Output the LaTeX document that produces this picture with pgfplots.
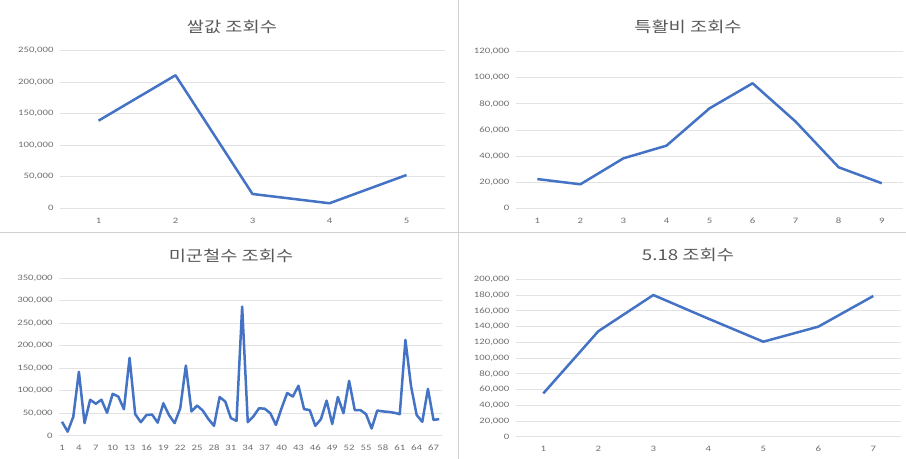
\documentclass[border=0pt]{standalone}
\usepackage{pgfplots}
\pgfplotsset{compat=1.18}
\usepackage{fontspec}
\setmainfont{Carlito}
\newfontfamily\tickfont[FakeStretch=1.3]{Carlito}
\newfontfamily\cjk[FakeStretch=1.25]{Noto Sans CJK KR}
\definecolor{exblue}{HTML}{4472C4}
\definecolor{txtgray}{HTML}{595959}
\definecolor{ticgray}{HTML}{707070}
\definecolor{gridgray}{HTML}{E3E3E3}
\definecolor{divgray}{HTML}{D0D0D0}
\tikzset{exline/.style={color=exblue, line width=2.5bp, mark=none, line join=round}}
\pgfplotsset{
  excel/.style={
    scale only axis,
    axis line style={draw=none},
    major tick length=0pt,
    ymajorgrids,
    grid style={draw=gridgray, line width=0.8bp},
    ymin=0,
    scaled y ticks=false,
    /pgf/number format/assume math mode=true,
    yticklabel style={/pgf/number format/fixed, /pgf/number format/1000 sep={,}, xshift=-3bp},
    tick label style={font=\tickfont\fontsize{8.3}{9}\selectfont, text=ticgray},
    xticklabel style={yshift=-6bp},
  }
}
\begin{document}
\begin{tikzpicture}
\useasboundingbox (0bp,0bp) rectangle (906bp,459bp);
\fill[white] (0bp,0bp) rectangle (906bp,459bp);
\draw[divgray, line width=0.8bp] (458bp,0bp) -- (458bp,459bp);
\draw[divgray, line width=0.8bp] (0bp,226.5bp) -- (906bp,226.5bp);

% Panel 1
\begin{axis}[excel, at={(60bp,250.7bp)}, anchor=south west, width=385bp, height=157.6bp,
  xmin=0.5, xmax=5.5, ymax=250000, ytick={0,50000,...,250000}, xtick={1,...,5}]
\addplot[exline] coordinates {(1,139000) (2,211000) (3,22700) (4,8000) (5,52800)};
\end{axis}
\node[text=txtgray, font=\cjk\fontsize{15}{16}\selectfont] at (232bp,432.3bp) {쌀값 조회수};

% Panel 2
\begin{axis}[excel, at={(515.8bp,250.7bp)}, anchor=south west, width=387.5bp, height=156.6bp,
  xmin=0.5, xmax=9.5, ymax=120000, ytick={0,20000,...,120000}, xtick={1,...,9}]
\addplot[exline] coordinates {(1,22400) (2,18400) (3,38300) (4,48000) (5,76600) (6,95800) (7,66400) (8,31400) (9,19200)};
\end{axis}
\node[text=txtgray, font=\cjk\fontsize{15}{16}\selectfont] at (688bp,432.3bp) {특활비 조회수};

% Panel 3
\begin{axis}[excel, at={(59.2bp,23.3bp)}, anchor=south west, width=382.8bp, height=157.4bp,
  xmin=0.5, xmax=68.5, ymax=350000, ytick={0,50000,...,350000}, xtick={1,4,...,67}]
\addplot[exline] coordinates {
(1,31000) (2,9000) (3,42000) (4,142000) (5,28000) (6,80000) (7,71000) (8,80000) (9,51000) (10,93000)
(11,87000) (12,59000) (13,173000) (14,48000) (15,30000) (16,46000) (17,47000) (18,29000) (19,72000) (20,46000)
(21,28000) (22,61000) (23,156000) (24,54000) (25,67000) (26,56000) (27,37000) (28,22000) (29,86000) (30,76000)
(31,39000) (32,33000) (33,287000) (34,30000) (35,43000) (36,61000) (37,60000) (38,50000) (39,24000) (40,61000)
(41,95000) (42,87000) (43,111000) (44,59000) (45,57000) (46,22000) (47,37000) (48,78000) (49,26000) (50,86000)
(51,50000) (52,122000) (53,57000) (54,57000) (55,48000) (56,16000) (57,56000) (58,54000) (59,53000) (60,51000)
(61,48000) (62,213000) (63,110000) (64,46000) (65,31000) (66,104000) (67,35000) (68,37000)};
\end{axis}
\node[text=txtgray, font=\cjk\fontsize{15}{16}\selectfont] at (231bp,203.5bp) {미군철수 조회수};

% Panel 4
\begin{axis}[excel, at={(515.8bp,22.3bp)}, anchor=south west, width=385bp, height=157.4bp,
  xmin=0.5, xmax=7.5, ymax=200000, ytick={0,20000,...,200000}, xtick={1,...,7}]
\addplot[exline] coordinates {(1,55000) (2,134000) (3,180000) (4,150000) (5,120700) (6,139800) (7,178800)};
\end{axis}
\node[text=txtgray, font=\cjk\fontsize{15}{16}\selectfont] at (688bp,204bp) {5.18 조회수};
\end{tikzpicture}
\end{document}
